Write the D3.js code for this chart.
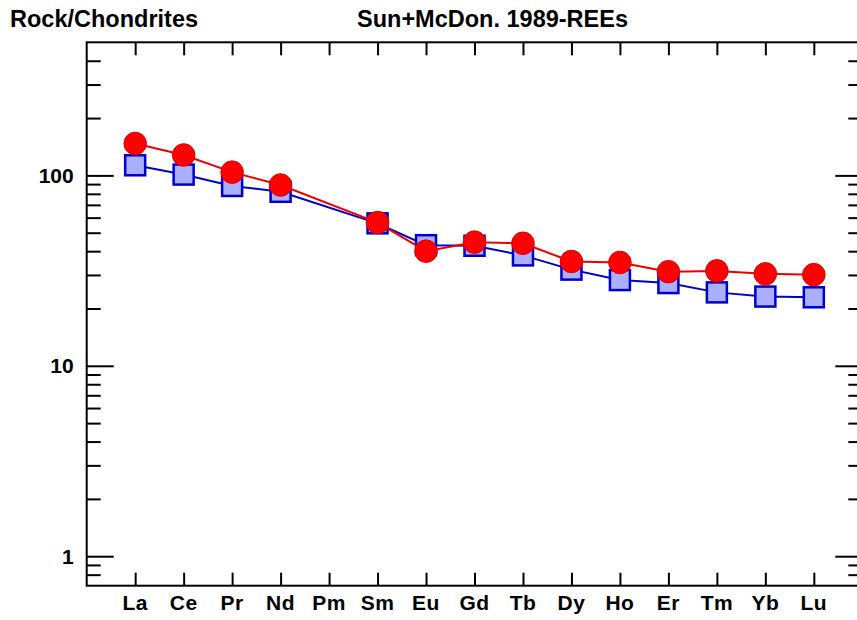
<!DOCTYPE html>
<html>
<head>
<meta charset="utf-8">
<script src="https://cdn.jsdelivr.net/npm/d3@7"></script>
<style>
  html, body { margin: 0; padding: 0; background: #fff; }
  svg { display: block; }
  text { font-family: "Liberation Sans", Arial, Helvetica, sans-serif; font-weight: bold; fill: #000; }
</style>
</head>
<body>
<script>
// ---- data ----
const elements = ["La","Ce","Pr","Nd","Pm","Sm","Eu","Gd","Tb","Dy","Ho","Er","Tm","Yb","Lu"];
// chondrite-normalised values (null = not analysed)
const sampleSquares = [113, 101, 88, 82, null, 56, 43, 42.7, 38, 32, 28.2, 27.2, 24.3, 23.1, 22.9];
const sampleCircles = [147, 128, 104, 89, null, 56.5, 40, 44.6, 44, 35.3, 34.9, 31.2, 31.5, 30.4, 30.1];
const yMajorTicks = [1, 10, 100];
const yDomain = [0.7, 500];
const titleLeft = "Rock/Chondrites";
const titleRight = "Sun+McDon. 1989-REEs";

// ---- layout ----
const W = 857, H = 620;
const plot = { left: 86.7, right: 862.3, top: 42.3, bottom: 585.7 };

const svg = d3.select("body").append("svg").attr("width", W).attr("height", H);

const x = d3.scalePoint().domain(elements).range([plot.left, plot.right]).padding(1);
const y = d3.scaleLog().domain(yDomain).range([plot.bottom, plot.top]);

// minor ticks
const yMinor = [];
for (let e = -1; e <= 2; e++) {
  for (let m = 1; m <= 9; m++) {
    const v = +(m * Math.pow(10, e)).toPrecision(6);
    if (v > yDomain[0] + 1e-9 && v < yDomain[1] - 1e-9 && !yMajorTicks.includes(v)) yMinor.push(v);
  }
}

// ---- axes (ticks drawn via d3 axes) ----
const g = svg.append("g");
function styleAxis(sel) {
  sel.select(".domain").remove();
  sel.selectAll(".tick line").attr("stroke", "#000").attr("stroke-width", 2);
}
g.append("g").attr("transform", `translate(${plot.left},0)`)
  .call(d3.axisRight(y).tickValues(yMajorTicks).tickSize(27).tickFormat(""))
  .call(styleAxis);
g.append("g").attr("transform", `translate(${plot.left},0)`)
  .call(d3.axisRight(y).tickValues(yMinor).tickSize(14).tickFormat(""))
  .call(styleAxis);
g.append("g").attr("transform", `translate(${plot.right},0)`)
  .call(d3.axisLeft(y).tickValues(yMajorTicks).tickSize(27).tickFormat(""))
  .call(styleAxis);
g.append("g").attr("transform", `translate(${plot.right},0)`)
  .call(d3.axisLeft(y).tickValues(yMinor).tickSize(14).tickFormat(""))
  .call(styleAxis);
g.append("g").attr("transform", `translate(0,${plot.bottom})`)
  .call(d3.axisTop(x).tickSize(13).tickFormat(""))
  .call(styleAxis);
g.append("g").attr("transform", `translate(0,${plot.top})`)
  .call(d3.axisBottom(x).tickSize(13).tickFormat(""))
  .call(styleAxis);

// y labels
g.selectAll("text.ylab").data(yMajorTicks).enter().append("text")
  .attr("class", "ylab")
  .attr("x", plot.left - 13)
  .attr("y", d => y(d) + 7.5)
  .attr("text-anchor", "end")
  .style("font-size", "21px")
  .text(d => d3.format("d")(d));

// x labels
g.selectAll("text.xlab").data(elements).enter().append("text")
  .attr("class", "xlab")
  .attr("x", d => x(d))
  .attr("y", 609.5)
  .attr("text-anchor", "middle")
  .style("font-size", "21px")
  .style("letter-spacing", "0.5px")
  .text(d => d);

// frame
svg.append("rect")
  .attr("x", plot.left).attr("y", plot.top)
  .attr("width", plot.right - plot.left).attr("height", plot.bottom - plot.top)
  .attr("fill", "none").attr("stroke", "#000").attr("stroke-width", 2);

// titles
svg.append("text").attr("x", 10).attr("y", 27).style("font-size", "23.5px").text(titleLeft);
svg.append("text").attr("x", 357).attr("y", 27).style("font-size", "23.5px").text(titleRight);

// ---- series ----
const line = d3.line().x(d => x(d.k)).y(d => y(d.v));

function seriesData(vals) {
  return elements.map((k, i) => ({ k, v: vals[i] })).filter(d => d.v != null);
}

const sq = seriesData(sampleSquares);
const ci = seriesData(sampleCircles);
const S = 20;

svg.append("path").datum(sq).attr("d", line)
  .attr("fill", "none").attr("stroke", "#0000cc").attr("stroke-width", 2);
svg.selectAll("rect.sq").data(sq).enter().append("rect")
  .attr("class", "sq")
  .attr("x", d => x(d.k) - S / 2).attr("y", d => y(d.v) - S / 2)
  .attr("width", S).attr("height", S)
  .attr("fill", "#aab0ff").attr("stroke", "#0000cc").attr("stroke-width", 2.5);

svg.append("path").datum(ci).attr("d", line)
  .attr("fill", "none").attr("stroke", "#ee0000").attr("stroke-width", 2);
svg.selectAll("circle.ci").data(ci).enter().append("circle")
  .attr("class", "ci")
  .attr("cx", d => x(d.k)).attr("cy", d => y(d.v))
  .attr("r", 11.3)
  .attr("fill", "#ff0000").attr("stroke", "#e00000").attr("stroke-width", 1);
</script>
</body>
</html>
